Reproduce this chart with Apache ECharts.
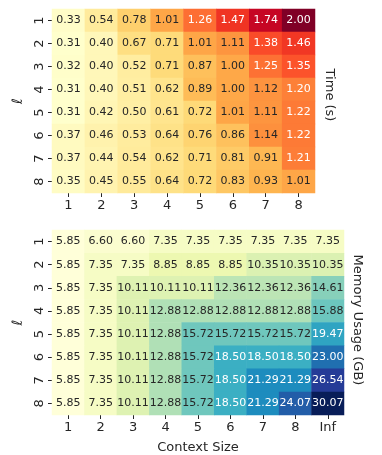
<!DOCTYPE html>
<html><head><meta charset="utf-8">
<script src="https://cdn.jsdelivr.net/npm/echarts@6/dist/echarts.min.js"></script>
<style>html,body{margin:0;padding:0;background:#fff}#c{width:382px;height:455px}</style>
</head><body><div id="c"></div>
<script>
const rowLabels = ['1','2','3','4','5','6','7','8'];
const timeCols = ['1','2','3','4','5','6','7','8'];
const memCols = ['1','2','3','4','5','6','7','8','Inf'];
const timeVals = [
  [0.33,0.54,0.78,1.01,1.26,1.47,1.74,2.00],
  [0.31,0.40,0.67,0.71,1.01,1.11,1.38,1.46],
  [0.32,0.40,0.52,0.71,0.87,1.00,1.25,1.35],
  [0.31,0.40,0.51,0.62,0.89,1.00,1.12,1.20],
  [0.31,0.42,0.50,0.61,0.72,1.01,1.11,1.22],
  [0.37,0.46,0.53,0.64,0.76,0.86,1.14,1.22],
  [0.37,0.44,0.54,0.62,0.71,0.81,0.91,1.21],
  [0.35,0.45,0.55,0.64,0.72,0.83,0.93,1.01]
];
const memVals = [
  [5.85,6.60,6.60,7.35,7.35,7.35,7.35,7.35,7.35],
  [5.85,7.35,7.35,8.85,8.85,8.85,10.35,10.35,10.35],
  [5.85,7.35,10.11,10.11,10.11,12.36,12.36,12.36,14.61],
  [5.85,7.35,10.11,12.88,12.88,12.88,12.88,12.88,15.88],
  [5.85,7.35,10.11,12.88,15.72,15.72,15.72,15.72,19.47],
  [5.85,7.35,10.11,12.88,15.72,18.50,18.50,18.50,23.00],
  [5.85,7.35,10.11,12.88,15.72,18.50,21.29,21.29,26.54],
  [5.85,7.35,10.11,12.88,15.72,18.50,21.29,24.07,30.07]
];
const YlOrRd = ['#ffffcc','#ffeda0','#fed976','#feb24c','#fd8d3c','#fc4e2a','#e31a1c','#bd0026','#800026'];
const YlGnBu = ['#ffffd9','#edf8b1','#c7e9b4','#7fcdbb','#41b6c4','#1d91c0','#225ea8','#253494','#081d58'];

function hex2rgb(h){return [parseInt(h.substr(1,2),16),parseInt(h.substr(3,2),16),parseInt(h.substr(5,2),16)];}
function cmap(stops, t){
  t=Math.max(0,Math.min(1,t));
  const p=t*(stops.length-1); const i=Math.min(Math.floor(p),stops.length-2); const f=p-i;
  const a=hex2rgb(stops[i]), b=hex2rgb(stops[i+1]);
  return a.map((v,k)=>v+(b[k]-v)*f);
}
function lum(rgb){
  const c=rgb.map(v=>{v/=255;return v<=0.03928?v/12.92:Math.pow((v+0.055)/1.055,2.4);});
  return 0.2126*c[0]+0.7152*c[1]+0.0722*c[2];
}
function build(vals, stops){
  let mn=Infinity,mx=-Infinity;
  vals.forEach(r=>r.forEach(v=>{mn=Math.min(mn,v);mx=Math.max(mx,v);}));
  const data=[];
  vals.forEach((r,ri)=>r.forEach((v,ci)=>{
    const rgb=cmap(stops,(v-mn)/(mx-mn));
    const col='rgb('+rgb.map(x=>Math.round(x)).join(',')+')';
    data.push({value:[ci,ri,v],itemStyle:{color:col},label:{color: lum(rgb)>0.408?'#262626':'#ffffff'}});
  }));
  return data;
}
const T=build(timeVals,YlOrRd), M=build(memVals,YlGnBu);
const FONT='DejaVu Sans';
function xAx(idx,cats,name){
  return {gridIndex:idx,type:'category',data:cats,position:'bottom',
    axisLine:{show:false},axisTick:{show:true,length:4,alignWithLabel:true,lineStyle:{color:'#262626',width:1}},
    axisLabel:{margin:6,fontSize:13,fontFamily:FONT,color:'#262626'},
    splitLine:{show:false},
    name:name,nameLocation:'middle',nameGap:26,nameTextStyle:{fontSize:13,fontFamily:FONT,color:'#262626'}};
}
function yAx(idx){
  return {gridIndex:idx,type:'category',data:rowLabels,inverse:true,
    axisLine:{show:false},axisTick:{show:true,length:4,alignWithLabel:true,lineStyle:{color:'#262626',width:1}},
    axisLabel:{margin:6,rotate:90,fontSize:13,fontFamily:FONT,color:'#262626'},
    name:'ℓ',nameLocation:'middle',nameGap:26,nameRotate:90,
    nameTextStyle:{fontSize:14,fontFamily:FONT,fontStyle:'italic',color:'#262626'}};
}
const labelCommon={show:true,fontSize:11,fontFamily:FONT,formatter:p=>p.value[2].toFixed(2)};
const option={
  animation:false,
  grid:[{left:52,top:9,width:263,height:184},{left:52,top:230,width:292,height:186}],
  xAxis:[xAx(0,timeCols,''),xAx(1,memCols,'Context Size')],
  yAxis:[yAx(0),yAx(1)],
  series:[
    {type:'heatmap',xAxisIndex:0,yAxisIndex:0,data:T,label:labelCommon,itemStyle:{borderWidth:0}},
    {type:'heatmap',xAxisIndex:1,yAxisIndex:1,data:M,label:labelCommon,itemStyle:{borderWidth:0}}
  ],
  graphic:[
    {type:'text',x:329,y:95,rotation:-Math.PI/2,style:{text:'Time (s)',fontSize:13,fontFamily:FONT,fill:'#262626',align:'center',verticalAlign:'middle'}},
    {type:'text',x:357,y:320,rotation:-Math.PI/2,style:{text:'Memory Usage (GB)',fontSize:13,fontFamily:FONT,fill:'#262626',align:'center',verticalAlign:'middle'}}
  ]
};
const chart=echarts.init(document.getElementById('c'),null,{renderer:'canvas'});
chart.setOption(option);
</script></body></html>
